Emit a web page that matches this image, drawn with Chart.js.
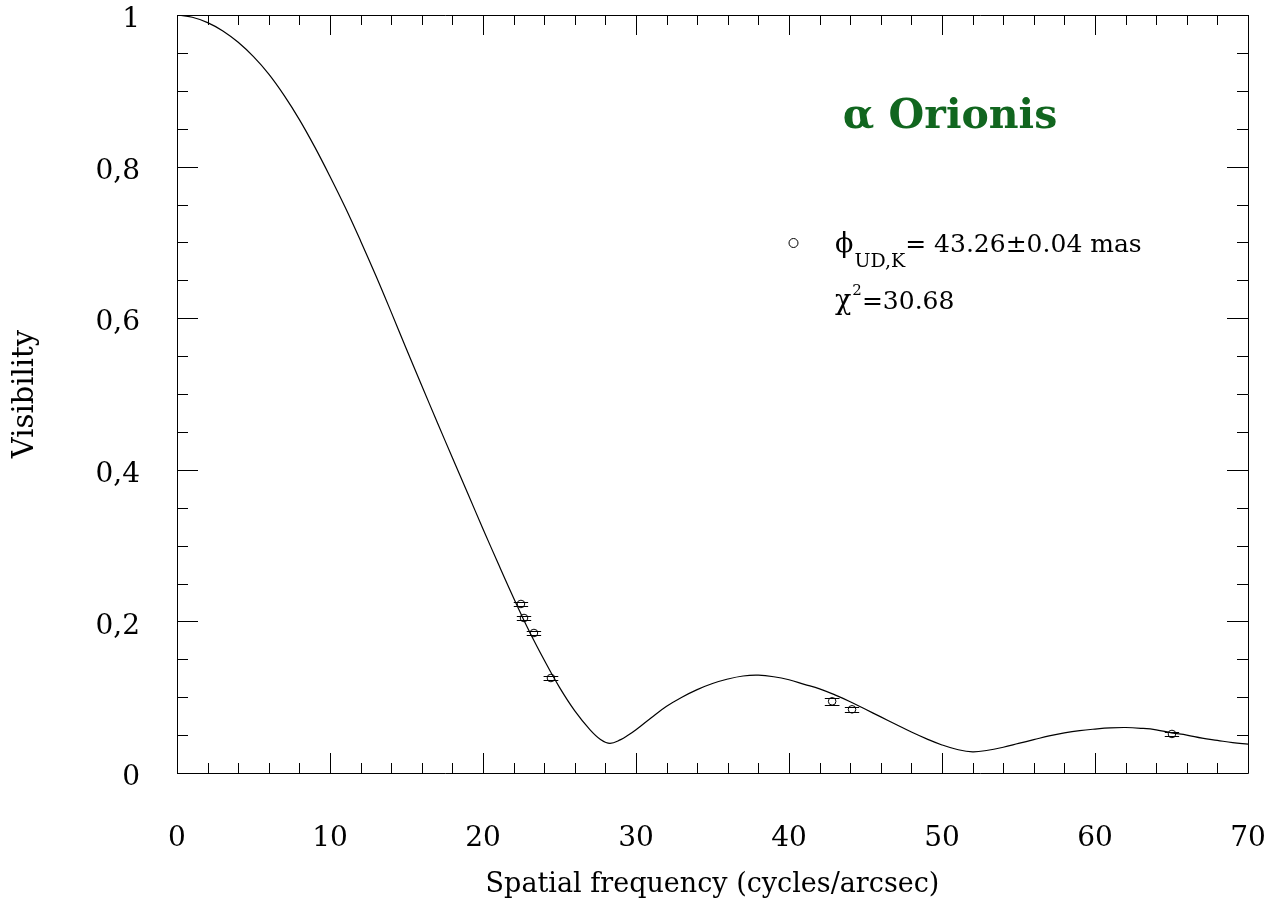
<!DOCTYPE html>
<html>
<head>
<meta charset="utf-8">
<script src="https://cdn.jsdelivr.net/npm/chart.js@4.4.1/dist/chart.umd.min.js"></script>
<style>
  html, body { margin: 0; padding: 0; background: #fff; }
  #wrap { width: 1275px; height: 905px; position: relative; }
</style>
</head>
<body>
<div id="wrap"><canvas id="visChart"></canvas></div>

<script>
// uniform disk model curve
const modelFreq = [0, 1, 2, 3, 4, 5, 6, 7, 8, 9, 10, 11, 12, 13, 14, 15, 16, 17, 18, 19,
  20, 21, 22, 23, 24, 25, 26, 27, 27.7, 28.3, 29, 29.5, 30, 31, 32, 33, 34, 35, 36, 37,
  38, 39, 40, 41, 42, 43, 44, 45, 46, 47, 48, 49, 50, 51, 52, 53, 54, 55, 56, 57,
  58, 59, 60, 61, 62, 63, 64, 65, 66, 67, 68, 69, 70];
const modelVis = [1.000, 0.997, 0.990, 0.979, 0.964, 0.945, 0.922, 0.894, 0.862, 0.826,
  0.787, 0.746, 0.702, 0.656, 0.608, 0.559, 0.511, 0.463, 0.416, 0.369,
  0.322, 0.276, 0.231, 0.188, 0.149, 0.113, 0.082, 0.057, 0.044, 0.039, 0.044, 0.050,
  0.057, 0.073, 0.088, 0.100, 0.110, 0.118, 0.124, 0.128,
  0.129, 0.127, 0.123, 0.117, 0.111, 0.103, 0.094, 0.084, 0.074, 0.064,
  0.054, 0.045, 0.037, 0.031, 0.028, 0.030, 0.034, 0.039, 0.044, 0.049,
  0.053, 0.056, 0.058, 0.0595, 0.060, 0.059, 0.057, 0.053, 0.050, 0.046,
  0.043, 0.040, 0.038];

// measured visibilities
const obsFreq = [22.48, 22.68, 23.33, 24.44, 42.82, 44.12, 65.03];
const obsVis = [0.223, 0.2045, 0.1847, 0.1253, 0.0946, 0.0840, 0.0515];
const obsFreqErr = [0.47, 0.47, 0.47, 0.48, 0.48, 0.47, 0.47];
const obsVisErr = [0.0027, 0.0027, 0.0027, 0.0027, 0.0045, 0.0029, 0.0022];

const yTickLabels = {0: '0', 0.2: '0,2', 0.4: '0,4', 0.6: '0,6', 0.8: '0,8', 1: '1'};

const SERIF = '"DejaVu Serif", "Liberation Serif", serif';

const modelPts = modelFreq.map((f, i) => ({x: f, y: modelVis[i]}));
const obsPts = obsFreq.map((f, i) => ({x: f, y: obsVis[i]}));

function crisp(v) { return Math.round(v) + 0.5; }

const framePlugin = {
  id: 'framePlugin',
  afterDatasetsDraw(chart) {
    const {ctx, chartArea: a, scales: {x, y}} = chart;
    ctx.save();
    ctx.strokeStyle = '#000';
    ctx.lineWidth = 1;
    ctx.beginPath();

    // error bars: two horizontal strokes at y +/- err spanning x +/- err
    obsFreq.forEach((f, i) => {
      const x0 = x.getPixelForValue(f - obsFreqErr[i]);
      const x1 = x.getPixelForValue(f + obsFreqErr[i]);
      [obsVis[i] - obsVisErr[i], obsVis[i] + obsVisErr[i]].forEach(v => {
        const py = crisp(y.getPixelForValue(v));
        ctx.moveTo(x0, py);
        ctx.lineTo(x1, py);
      });
    });

    // frame
    ctx.rect(crisp(a.left), crisp(a.top), Math.round(a.right - a.left), Math.round(a.bottom - a.top));

    // inward ticks, all four sides
    for (let v = 0; v <= 70; v += 2) {
      const px = crisp(x.getPixelForValue(v));
      const len = v % 10 === 0 ? 20 : 10;
      ctx.moveTo(px, a.bottom); ctx.lineTo(px, a.bottom - len);
      ctx.moveTo(px, a.top); ctx.lineTo(px, a.top + len);
    }
    for (let i = 0; i <= 20; i++) {
      const py = crisp(y.getPixelForValue(i * 0.05));
      const len = i % 4 === 0 ? 21 : 11;
      ctx.moveTo(a.left, py); ctx.lineTo(a.left + len, py);
      ctx.moveTo(a.right, py); ctx.lineTo(a.right - len, py);
    }
    ctx.stroke();
    ctx.restore();
  },
  afterDraw(chart) {
    const {ctx} = chart;
    ctx.save();
    ctx.textBaseline = 'alphabetic';

    // star name
    ctx.fillStyle = '#11661f';
    ctx.font = 'bold 41px ' + SERIF;
    ctx.textAlign = 'center';
    ctx.fillText('α Orionis', 950, 128);

    // legend
    ctx.fillStyle = '#000';
    ctx.textAlign = 'left';
    ctx.strokeStyle = '#000';
    ctx.lineWidth = 1;
    ctx.beginPath();
    ctx.arc(793.5, 243, 4.5, 0, Math.PI * 2);
    ctx.stroke();

    ctx.font = '27px ' + SERIF;
    ctx.fillText('ϕ', 835, 252);
    let w = ctx.measureText('ϕ').width;
    ctx.font = '19px ' + SERIF;
    ctx.fillText('UD,K', 835 + w + 1, 267);
    const w2 = ctx.measureText('UD,K').width;
    ctx.font = '25px ' + SERIF;
    ctx.fillText('= 43.26±0.04 mas', 835 + w + 1 + w2, 252);

    ctx.font = '27px ' + SERIF;
    ctx.fillText('χ', 835, 309);
    w = ctx.measureText('χ').width;
    ctx.font = '15px ' + SERIF;
    ctx.fillText('2', 835 + w + 1, 295);
    const w3 = ctx.measureText('2').width;
    ctx.font = '25px ' + SERIF;
    ctx.fillText('=30.68', 835 + w + 1 + w3, 309);
    ctx.restore();
  }
};

const config = {
  type: 'scatter',
  data: {
    datasets: [
      {
        label: 'UD model',
        data: modelPts,
        showLine: true,
        borderColor: '#000',
        borderWidth: 1.2,
        pointRadius: 0,
        tension: 0.4,
        fill: false
      },
      {
        label: 'observations',
        data: obsPts,
        showLine: false,
        pointStyle: 'circle',
        pointRadius: 3.8,
        borderWidth: 1,
        borderColor: '#000',
        backgroundColor: 'rgba(0,0,0,0)'
      }
    ]
  },
  options: {
    responsive: true,
    maintainAspectRatio: false,
    animation: false,
    layout: {padding: {left: 0, right: 27, top: 15, bottom: 0}},
    plugins: {
      legend: {display: false},
      tooltip: {enabled: false}
    },
    scales: {
      x: {
        type: 'linear',
        min: 0,
        max: 70,
        grid: {display: false, drawTicks: false},
        border: {display: false},
        ticks: {
          stepSize: 10,
          padding: 49,
          color: '#000',
          font: {family: SERIF, size: 28}
        },
        title: {
          display: true,
          text: 'Spatial frequency (cycles/arcsec)',
          color: '#000',
          font: {family: SERIF, size: 27},
          padding: {top: 0, bottom: 4}
        },
        afterFit(s) {
          s.height = 132;
          s.paddingLeft = 0; s.paddingRight = 0;
        }
      },
      y: {
        type: 'linear',
        min: 0,
        max: 1,
        grid: {display: false, drawTicks: false},
        border: {display: false},
        ticks: {
          stepSize: 0.2,
          padding: 37,
          labelOffset: 5,
          color: '#000',
          font: {family: SERIF, size: 28},
          callback: v => yTickLabels[Math.round(v * 10) / 10] ?? ''
        },
        title: {
          display: true,
          text: 'Visibility',
          color: '#000',
          font: {family: SERIF, size: 29},
          padding: {top: 8, bottom: 0}
        },
        afterFit(s) {
          s.width = 177;
          s.paddingTop = 0; s.paddingBottom = 0;
        }
      }
    }
  },
  plugins: [framePlugin]
};

const visChart = new Chart(document.getElementById('visChart'), config);
</script>
</body>
</html>
